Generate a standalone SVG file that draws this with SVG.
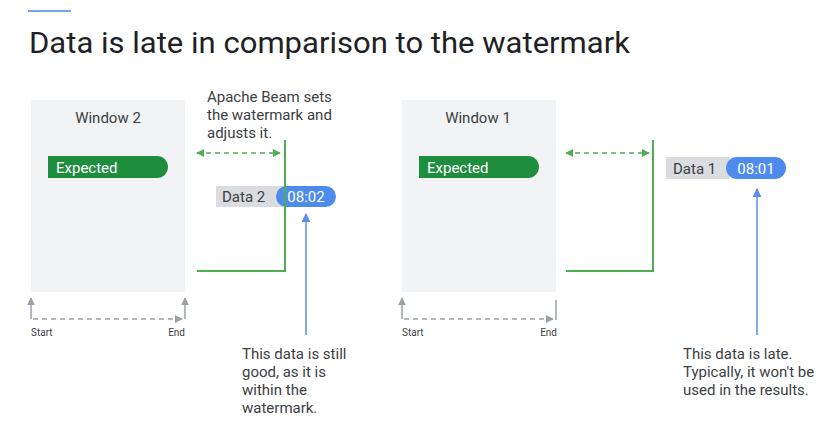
<svg xmlns="http://www.w3.org/2000/svg" width="834" height="428" viewBox="0 0 834 428">
<style>
text{font-family:Roboto,"Liberation Sans",sans-serif;fill:#3c4043}
.title{font-size:29px;fill:#202124;font-weight:400}
.win{fill:#f1f3f4}
.wt{font-size:15px;text-anchor:middle}
.exp{fill:#1e8e3e}
.et{font-size:15px;fill:#fff}
.lbl{font-size:15px}
.dl{fill:#dadce0}
.pill{fill:#4d8bec}
.pt{font-size:15px;fill:#fff;text-anchor:middle}
.small{font-size:10px;fill:#3c4043}
.gray{stroke:#9aa0a6;stroke-width:1.5;fill:none}
.gdash{stroke:#9aa0a6;stroke-width:1.5;stroke-dasharray:5 4;fill:none}
.green{stroke:#4caf50;stroke-width:2;fill:none}
.gd{stroke:#4caf50;stroke-width:1.5;stroke-dasharray:5 4;fill:none}
.blue{stroke:#5b8def;stroke-width:1.5;fill:none}
</style>
<defs>
<marker id="ag" viewBox="0 0 10 10" refX="9" refY="5" markerWidth="8" markerHeight="8" markerUnits="userSpaceOnUse" orient="auto-start-reverse"><path d="M0,0L10,5L0,10z" fill="#9aa0a6"/></marker>
<marker id="agr" viewBox="0 0 10 10" refX="9" refY="5" markerWidth="8" markerHeight="8" markerUnits="userSpaceOnUse" orient="auto-start-reverse"><path d="M0,0L10,5L0,10z" fill="#4caf50"/></marker>
<marker id="ab" viewBox="0 0 10 10" refX="9" refY="5" markerWidth="9" markerHeight="9" markerUnits="userSpaceOnUse" orient="auto"><path d="M0,0L10,5L0,10z" fill="#5b8def"/></marker>
</defs>
<line x1="28" y1="11" x2="71" y2="11" stroke="#7aa3ea" stroke-width="2"/>
<text class="title" x="29" y="53" textLength="601" lengthAdjust="spacingAndGlyphs">Data is late in comparison to the watermark</text>

<g id="window2">
<rect class="win" x="31" y="100" width="154" height="192"/>
<text class="wt" x="108" y="123">Window 2</text>
<path class="exp" d="M48,156H157A11,11 0 0 1 157,178H48z"/>
<text class="et" x="56" y="173">Expected</text>
</g>
<g id="window2-axis">
<text class="small" x="31" y="336">Start</text>
<text class="small" x="185" y="336" text-anchor="end">End</text>
</g>

<g id="note2">
<text class="lbl" x="207" y="102">Apache Beam sets</text>
<text class="lbl" x="207" y="120">the watermark and</text>
<text class="lbl" x="207" y="138">adjusts it.</text>
</g>

<g id="data2">
<rect class="dl" x="216" y="186" width="72" height="21"/>
<text class="lbl" x="222" y="202">Data 2</text>
<rect class="pill" x="276" y="186" width="60" height="21" rx="10.5"/>
<text class="pt" x="306" y="202">08:02</text>
</g>

<g id="late2">
<text class="lbl" x="242" y="359">This data is still</text>
<text class="lbl" x="242" y="377">good, as it is</text>
<text class="lbl" x="242" y="395">within the</text>
<text class="lbl" x="242" y="413">watermark.</text>
</g>

<g id="window1">
<rect class="win" x="402" y="100" width="154" height="192"/>
<text class="wt" x="478" y="123">Window 1</text>
<path class="exp" d="M419,156H528A11,11 0 0 1 528,178H419z"/>
<text class="et" x="427" y="173">Expected</text>
</g>
<g id="window1-axis">
<text class="small" x="402" y="336">Start</text>
<text class="small" x="557" y="336" text-anchor="end">End</text>
</g>

<g id="data1">
<rect class="dl" x="666" y="157" width="64" height="22"/>
<text class="lbl" x="673" y="174">Data 1</text>
<rect class="pill" x="726" y="157" width="60" height="22" rx="11"/>
<text class="pt" x="756" y="174">08:01</text>
</g>

<g id="late1">
<text class="lbl" x="683" y="359">This data is late.</text>
<text class="lbl" x="683" y="377">Typically, it won't be</text>
<text class="lbl" x="683" y="395">used in the results.</text>
</g>

<g id="connectors">
<path class="gray" d="M31,319V298" marker-end="url(#ag)"/>
<path class="gray" d="M185,319V298" marker-end="url(#ag)"/>
<path class="gdash" d="M33,319H182" marker-end="url(#ag)"/>
<path class="gd" d="M197,153H280" marker-start="url(#agr)" marker-end="url(#agr)"/>
<path class="green" d="M197,271H285V140"/>
<path class="blue" d="M306,335V214" marker-end="url(#ab)"/>

<path class="gray" d="M402,319V298" marker-end="url(#ag)"/>
<path class="gray" d="M556,300V320"/>
<path class="gdash" d="M404,319H553" marker-end="url(#ag)"/>
<path class="gd" d="M566,153H649" marker-start="url(#agr)" marker-end="url(#agr)"/>
<path class="green" d="M566,271H653V140"/>
<path class="blue" d="M757,335V189" marker-end="url(#ab)"/>
</g>
</svg>
